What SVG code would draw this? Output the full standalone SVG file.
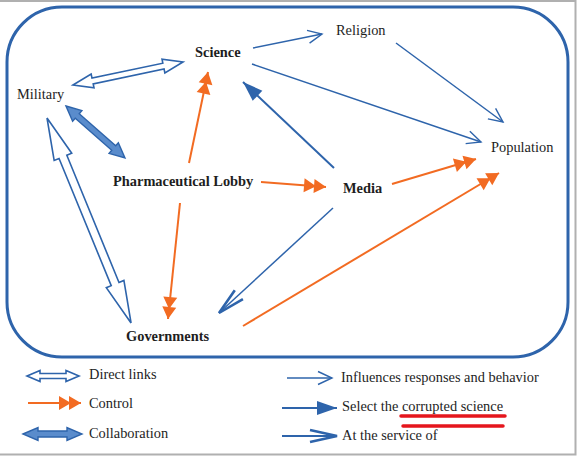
<svg xmlns="http://www.w3.org/2000/svg" width="578" height="458" viewBox="0 0 578 458">
<style>
text{font-family:"Liberation Serif","Times New Roman",serif;font-size:14.4px;fill:#1e1e1e}
.b{font-weight:bold}
.thin{stroke:#2e64ab;stroke-width:1.5;fill:none}
.med{stroke:#2e64ab;stroke-width:2;fill:none}
.org{stroke:#f26b22;stroke-width:2;fill:none}
.hollow{fill:#fff;stroke:#2e64ab;stroke-width:1.6;stroke-linejoin:miter}
.solid{fill:#5a8ccc;stroke:#2e64ab;stroke-width:1.4}
.red{stroke:#e5161d;stroke-width:3.5;stroke-linecap:round}
</style>
<defs>
<marker id="ctrl" markerUnits="userSpaceOnUse" orient="auto" refX="0" refY="0" markerWidth="30" markerHeight="20" overflow="visible">
<path d="M-22,-7 L-10,0 L-22,7 Z M-12,-7 L0,0 L-12,7 Z" fill="#f26b22"/>
</marker>
<marker id="infl" markerUnits="userSpaceOnUse" orient="auto" refX="0" refY="0" markerWidth="20" markerHeight="20" overflow="visible">
<path d="M-14,-6.5 L0,0 L-14,6.5" fill="none" stroke="#2e64ab" stroke-width="1.4"/>
</marker>
<marker id="sel" markerUnits="userSpaceOnUse" orient="auto" refX="0" refY="0" markerWidth="24" markerHeight="20" overflow="visible">
<path d="M-20,-7 L0,0 L-20,7 Z" fill="#2e64ab"/>
</marker>
<marker id="serv" markerUnits="userSpaceOnUse" orient="auto" refX="0" refY="0" markerWidth="32" markerHeight="20" overflow="visible">
<path d="M-27,-6 L0,0 L-27,6" fill="none" stroke="#2e64ab" stroke-width="2.6"/>
</marker>
</defs>
<rect width="578" height="458" fill="#fff"/>
<path d="M0,1 H575.5 V454.5 H0" fill="none" stroke="#b0b0b0" stroke-width="2"/>
<rect x="7" y="7" width="561" height="350" rx="55" ry="55" fill="none" stroke="#2e64ab" stroke-width="3"/>

<g id="connectors">
<line class="thin" x1="253" y1="48" x2="322" y2="34" marker-end="url(#infl)"/>
<line class="thin" x1="396" y1="43" x2="503" y2="122" marker-end="url(#infl)"/>
<line class="thin" x1="252" y1="64" x2="481" y2="142" marker-end="url(#infl)"/>
<line class="med" x1="334" y1="168" x2="243" y2="82" marker-end="url(#sel)"/>
<line class="thin" x1="333" y1="208" x2="219" y2="313" marker-end="url(#serv)"/>
<line class="org" x1="189" y1="163" x2="208" y2="72" marker-end="url(#ctrl)"/>
<line class="org" x1="261" y1="182" x2="326" y2="187" marker-end="url(#ctrl)"/>
<line class="org" x1="180" y1="203" x2="168" y2="319" marker-end="url(#ctrl)"/>
<line class="org" x1="392" y1="184" x2="476" y2="159" marker-end="url(#ctrl)"/>
<line class="org" x1="243" y1="326" x2="499" y2="173" marker-end="url(#ctrl)"/>
<polygon class="hollow" transform="translate(73,85) rotate(-11.8)" points="0,0 20,-7 20,-3 92.4,-3 92.4,-7 112.4,0 92.4,7 92.4,3 20,3 20,7"/>
<polygon class="solid" transform="translate(66,106) rotate(41.4)" points="0,0 15,-7 15,-3 63.6,-3 63.6,-7 78.6,0 63.6,7 63.6,3 15,3 15,7"/>
<polygon class="hollow" transform="translate(47,118) rotate(67.7)" points="0,0 42,-9.5 42,-4.2 179.5,-4.2 179.5,-9.5 221.5,0 179.5,9.5 179.5,4.2 42,4.2 42,9.5"/>
</g>

<g id="science"><text class="b" x="195" y="57">Science</text></g>
<g id="religion"><text x="336" y="35">Religion</text></g>
<g id="military"><text x="17" y="99">Military</text></g>
<g id="population"><text x="491" y="152">Population</text></g>
<g id="pharma"><text class="b" x="113" y="186">Pharmaceutical Lobby</text></g>
<g id="media"><text class="b" x="343" y="193">Media</text></g>
<g id="governments"><text class="b" x="126" y="341">Governments</text></g>

<g id="legend">
<polygon class="hollow" transform="translate(27,376)" points="0,0 13,-5.5 13,-2.5 39,-2.5 39,-5.5 52,0 39,5.5 39,2.5 13,2.5 13,5.5"/>
<text x="89" y="379">Direct links</text>
<line class="org" x1="28" y1="403" x2="81" y2="403" marker-end="url(#ctrl)"/>
<text x="89" y="408">Control</text>
<polygon class="solid" transform="translate(23,434)" points="0,0 15,-6.5 15,-3 44,-3 44,-6.5 59,0 44,6.5 44,3 15,3 15,6.5"/>
<text x="89" y="438">Collaboration</text>
<line class="thin" x1="287" y1="378" x2="332" y2="378" marker-end="url(#infl)"/>
<text x="341" y="382">Influences responses and behavior</text>
<line class="med" x1="282" y1="408" x2="337" y2="408" marker-end="url(#sel)"/>
<text x="342" y="411">Select the corrupted science</text>
<line class="red" x1="401" y1="416" x2="505" y2="416"/>
<line class="red" x1="403" y1="426" x2="503" y2="426"/>
<line class="med" x1="282" y1="436" x2="337" y2="436" marker-end="url(#serv)"/>
<text x="342" y="440">At the service of</text>
</g>
</svg>
